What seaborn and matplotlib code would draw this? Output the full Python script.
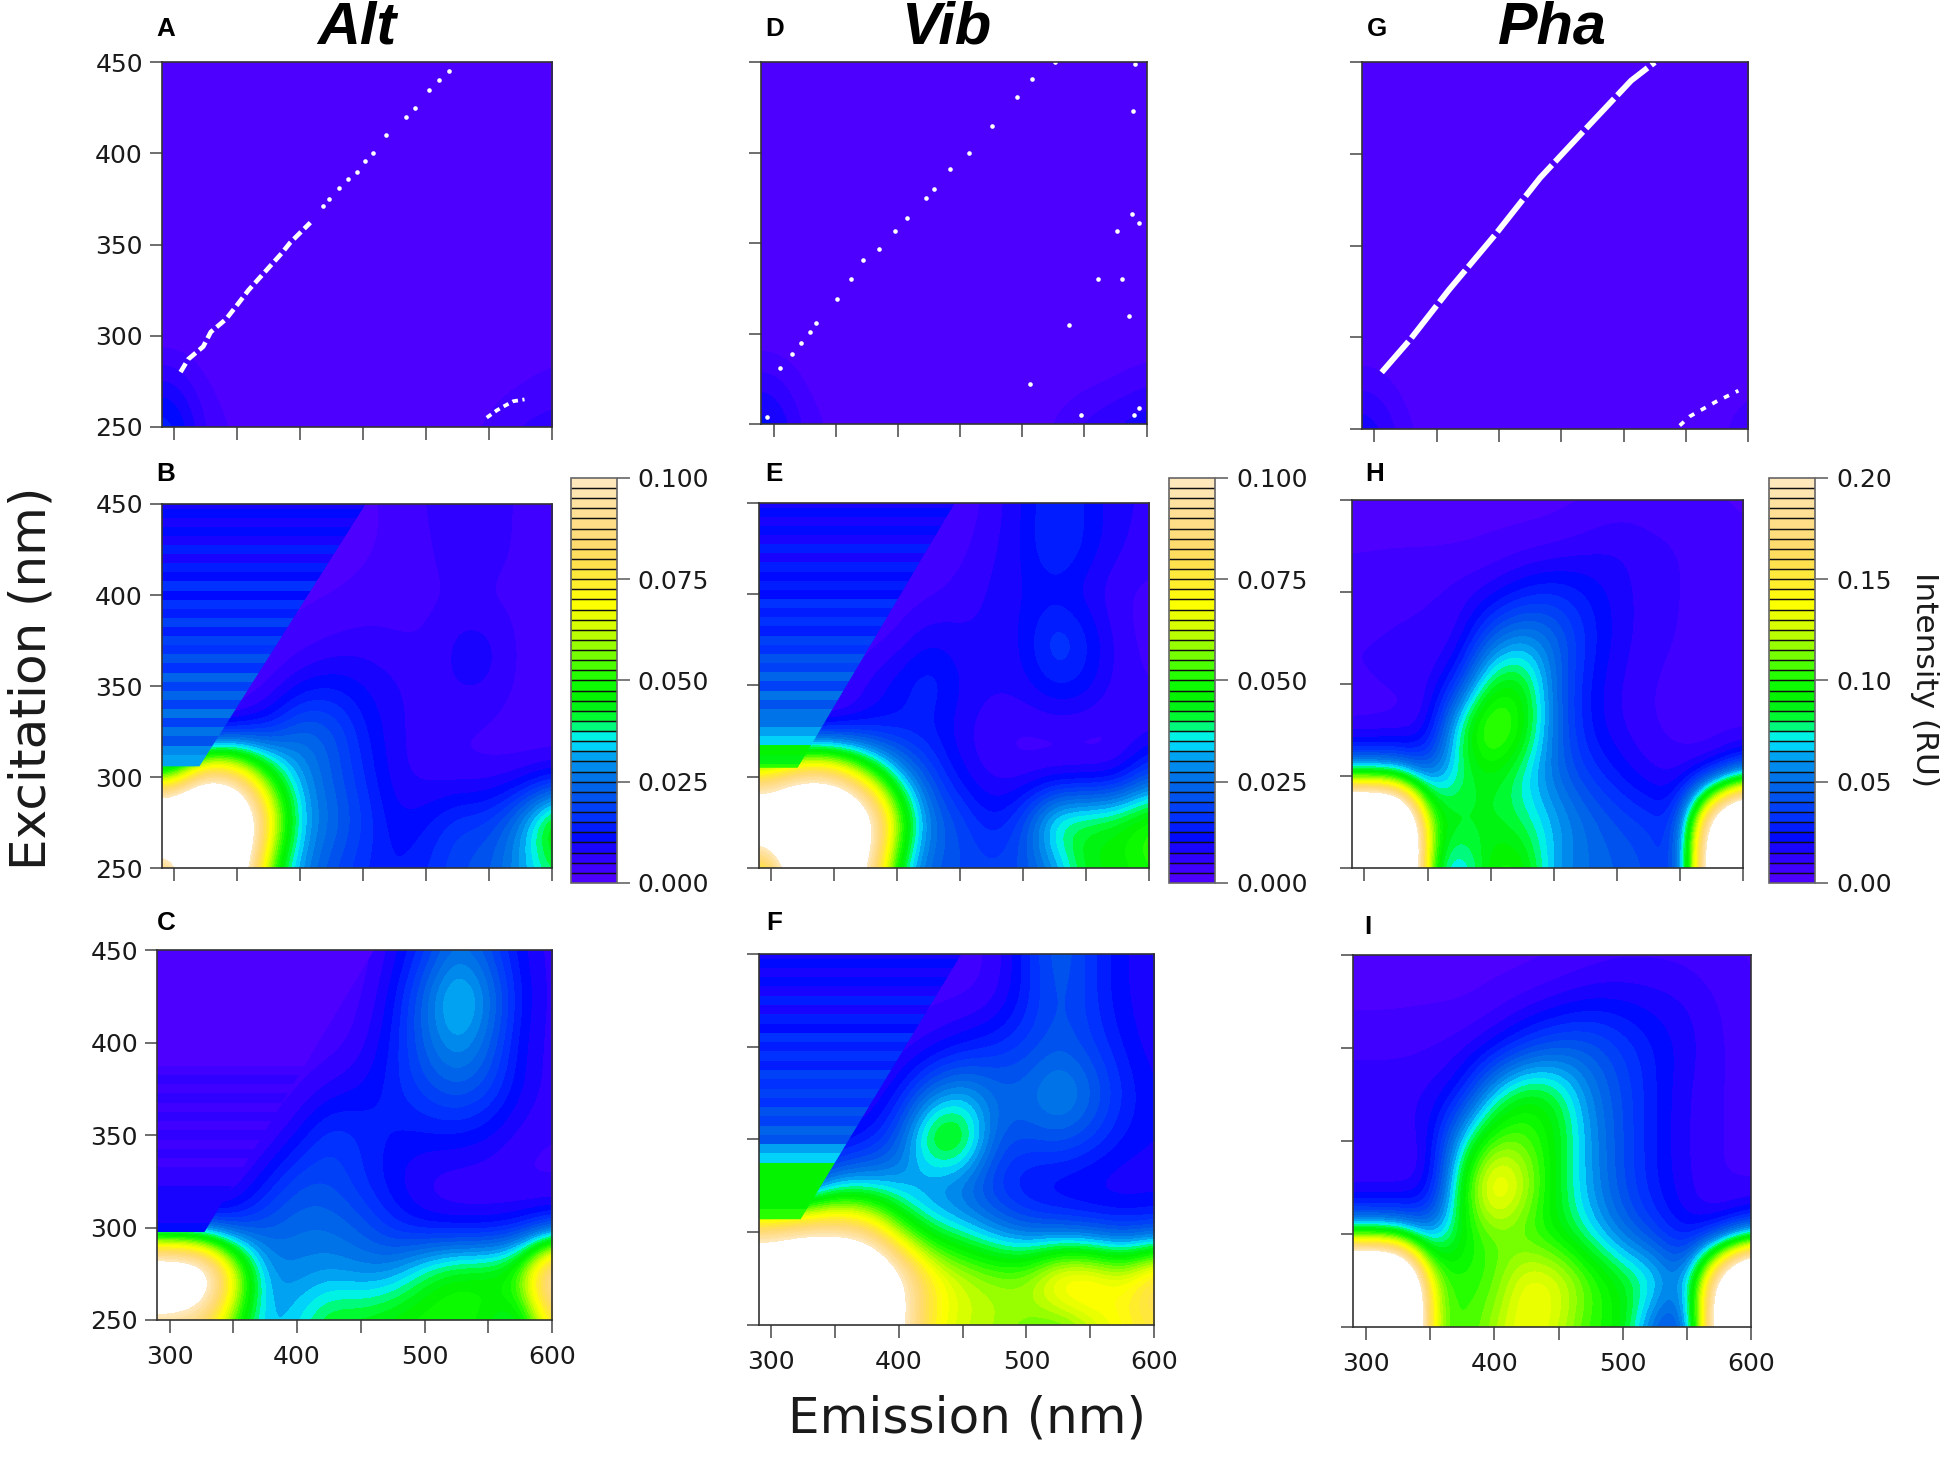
import numpy as np
import matplotlib
matplotlib.use('Agg')
import matplotlib.pyplot as plt
from matplotlib.colors import ListedColormap, BoundaryNorm, Normalize
from matplotlib.cm import ScalarMappable
from matplotlib.patches import Polygon
import seaborn as sns

# grid of the excitation-emission maps (rows go from 450 nm at the top down to 250 nm)
emission_nm = [300, 325, 350, 375, 400, 425, 450, 475, 500, 525, 550, 575, 600]
excitation_nm = [450, 425, 400, 375, 350, 325, 300, 275, 250]

# top row: almost empty maps, only the scatter line
alt_a = [
    [0] * 13, [0] * 13, [0] * 13, [0] * 13, [0] * 13, [0] * 13, [0] * 13,
    [0.008, 0.002, 0.001, 0, 0, 0, 0, 0, 0, 0, 0.001, 0.002, 0.004],
    [0.015, 0.004, 0.002, 0.002, 0.001, 0.001, 0.001, 0.001, 0.001, 0.002, 0.003, 0.006, 0.006],
]
vib_d = [
    [0] * 13, [0] * 13, [0] * 13, [0] * 13, [0] * 13, [0] * 13, [0] * 13,
    [0.006, 0.002, 0, 0, 0, 0, 0, 0, 0, 0, 0.001, 0.002, 0.004],
    [0.012, 0.004, 0.002, 0, 0, 0, 0, 0, 0, 0.003, 0.006, 0.008, 0.01],
]
pha_g = [
    [0] * 13, [0] * 13, [0] * 13, [0] * 13, [0] * 13, [0] * 13, [0] * 13,
    [0.008, 0.002, 0, 0, 0, 0, 0, 0, 0, 0, 0, 0.002, 0.004],
    [0.02, 0.006, 0.002, 0, 0, 0, 0, 0, 0, 0, 0.002, 0.004, 0.008],
]

alt_b = [
    [0.002, 0.002, 0.002, 0.002, 0.002, 0.002, 0.002, 0.003, 0.005, 0.008, 0.007, 0.004, 0.004],
    [0.002, 0.002, 0.002, 0.002, 0.002, 0.002, 0.002, 0.003, 0.004, 0.008, 0.007, 0.004, 0.003],
    [0.002, 0.002, 0.002, 0.002, 0.002, 0.002, 0.003, 0.004, 0.004, 0.005, 0.004, 0.004, 0.002],
    [0.002, 0.002, 0.002, 0.002, 0.003, 0.005, 0.006, 0.005, 0.005, 0.009, 0.009, 0.004, 0.003],
    [0.002, 0.002, 0.002, 0.004, 0.010, 0.012, 0.010, 0.008, 0.006, 0.008, 0.008, 0.004, 0.003],
    [0.002, 0.003, 0.008, 0.014, 0.025, 0.022, 0.013, 0.008, 0.006, 0.005, 0.004, 0.003, 0.003],
    [0.045, 0.095, 0.085, 0.050, 0.030, 0.022, 0.015, 0.008, 0.006, 0.005, 0.005, 0.006, 0.008],
    [0.160, 0.180, 0.150, 0.075, 0.033, 0.025, 0.018, 0.010, 0.012, 0.018, 0.018, 0.030, 0.055],
    [0.070, 0.170, 0.120, 0.050, 0.028, 0.020, 0.015, 0.012, 0.015, 0.020, 0.022, 0.030, 0.040],
]
alt_c = [
    [0.003, 0.003, 0.003, 0.003, 0.003, 0.003, 0.003, 0.008, 0.016, 0.026, 0.020, 0.010, 0.006],
    [0.003, 0.003, 0.003, 0.003, 0.003, 0.003, 0.004, 0.011, 0.025, 0.039, 0.028, 0.012, 0.006],
    [0.003, 0.003, 0.003, 0.003, 0.003, 0.003, 0.006, 0.013, 0.024, 0.032, 0.024, 0.010, 0.006],
    [0.003, 0.003, 0.003, 0.003, 0.004, 0.008, 0.010, 0.014, 0.019, 0.023, 0.019, 0.010, 0.006],
    [0.003, 0.003, 0.003, 0.004, 0.010, 0.018, 0.015, 0.012, 0.012, 0.012, 0.010, 0.006, 0.005],
    [0.003, 0.003, 0.004, 0.012, 0.020, 0.020, 0.015, 0.010, 0.006, 0.005, 0.005, 0.004, 0.004],
    [0.012, 0.012, 0.015, 0.022, 0.025, 0.025, 0.022, 0.015, 0.010, 0.008, 0.008, 0.010, 0.012],
    [0.150, 0.140, 0.075, 0.030, 0.028, 0.030, 0.028, 0.030, 0.042, 0.050, 0.050, 0.060, 0.120],
    [0.085, 0.080, 0.050, 0.030, 0.035, 0.045, 0.045, 0.048, 0.050, 0.050, 0.045, 0.035, 0.075],
]
vib_e = [
    [0.003, 0.003, 0.003, 0.003, 0.003, 0.003, 0.003, 0.006, 0.010, 0.016, 0.012, 0.008, 0.007],
    [0.003, 0.003, 0.003, 0.003, 0.003, 0.003, 0.004, 0.007, 0.010, 0.018, 0.012, 0.008, 0.006],
    [0.003, 0.003, 0.003, 0.003, 0.003, 0.004, 0.006, 0.008, 0.010, 0.010, 0.008, 0.005, 0.004],
    [0.003, 0.003, 0.003, 0.003, 0.005, 0.010, 0.008, 0.008, 0.010, 0.020, 0.014, 0.006, 0.004],
    [0.003, 0.003, 0.003, 0.008, 0.012, 0.016, 0.010, 0.008, 0.009, 0.014, 0.012, 0.006, 0.005],
    [0.003, 0.004, 0.006, 0.010, 0.012, 0.012, 0.008, 0.005, 0.004, 0.004, 0.004, 0.004, 0.006],
    [0.075, 0.095, 0.090, 0.060, 0.034, 0.020, 0.010, 0.006, 0.005, 0.005, 0.005, 0.006, 0.020],
    [0.140, 0.160, 0.160, 0.125, 0.060, 0.027, 0.020, 0.012, 0.020, 0.045, 0.045, 0.048, 0.055],
    [0.060, 0.140, 0.140, 0.100, 0.040, 0.022, 0.020, 0.018, 0.020, 0.028, 0.045, 0.045, 0.050],
]
vib_f = [
    [0.004, 0.004, 0.004, 0.004, 0.004, 0.004, 0.004, 0.005, 0.014, 0.024, 0.016, 0.010, 0.008],
    [0.004, 0.004, 0.004, 0.004, 0.004, 0.004, 0.004, 0.006, 0.014, 0.022, 0.016, 0.010, 0.008],
    [0.005, 0.005, 0.005, 0.005, 0.005, 0.008, 0.012, 0.015, 0.018, 0.022, 0.018, 0.012, 0.008],
    [0.006, 0.006, 0.006, 0.006, 0.012, 0.026, 0.032, 0.025, 0.025, 0.032, 0.025, 0.015, 0.010],
    [0.008, 0.008, 0.008, 0.012, 0.022, 0.051, 0.051, 0.022, 0.020, 0.022, 0.018, 0.012, 0.010],
    [0.010, 0.012, 0.030, 0.032, 0.030, 0.025, 0.022, 0.015, 0.010, 0.008, 0.007, 0.007, 0.008],
    [0.090, 0.095, 0.095, 0.085, 0.055, 0.040, 0.035, 0.028, 0.022, 0.020, 0.018, 0.015, 0.016],
    [0.140, 0.160, 0.160, 0.150, 0.110, 0.075, 0.065, 0.060, 0.062, 0.082, 0.082, 0.070, 0.090],
    [0.100, 0.150, 0.150, 0.140, 0.105, 0.070, 0.062, 0.060, 0.055, 0.050, 0.060, 0.070, 0.075],
]
pha_h = [
    [0.003, 0.003, 0.003, 0.003, 0.003, 0.003, 0.003, 0.004, 0.006, 0.006, 0.006, 0.005, 0.004],
    [0.004, 0.004, 0.004, 0.004, 0.005, 0.006, 0.008, 0.012, 0.015, 0.012, 0.010, 0.008, 0.006],
    [0.008, 0.010, 0.010, 0.012, 0.015, 0.025, 0.030, 0.025, 0.018, 0.012, 0.010, 0.008, 0.008],
    [0.010, 0.010, 0.010, 0.012, 0.045, 0.060, 0.050, 0.030, 0.018, 0.012, 0.010, 0.006, 0.006],
    [0.010, 0.012, 0.012, 0.030, 0.090, 0.095, 0.050, 0.025, 0.015, 0.010, 0.008, 0.006, 0.005],
    [0.005, 0.006, 0.010, 0.085, 0.125, 0.100, 0.050, 0.025, 0.015, 0.010, 0.008, 0.008, 0.006],
    [0.060, 0.060, 0.045, 0.075, 0.090, 0.070, 0.050, 0.035, 0.025, 0.015, 0.012, 0.012, 0.040],
    [0.420, 0.400, 0.110, 0.090, 0.085, 0.080, 0.065, 0.050, 0.040, 0.035, 0.030, 0.240, 0.380],
    [0.420, 0.400, 0.090, 0.055, 0.100, 0.100, 0.060, 0.050, 0.045, 0.040, 0.025, 0.260, 0.380],
]
pha_i = [
    [0.003, 0.003, 0.003, 0.003, 0.003, 0.003, 0.004, 0.006, 0.008, 0.008, 0.008, 0.006, 0.004],
    [0.004, 0.004, 0.004, 0.004, 0.006, 0.010, 0.015, 0.020, 0.020, 0.018, 0.015, 0.010, 0.006],
    [0.008, 0.008, 0.010, 0.012, 0.020, 0.035, 0.045, 0.045, 0.035, 0.025, 0.018, 0.010, 0.008],
    [0.015, 0.015, 0.015, 0.025, 0.070, 0.095, 0.085, 0.055, 0.040, 0.025, 0.015, 0.010, 0.008],
    [0.012, 0.012, 0.015, 0.070, 0.110, 0.110, 0.090, 0.060, 0.040, 0.025, 0.015, 0.010, 0.008],
    [0.008, 0.008, 0.012, 0.095, 0.160, 0.125, 0.085, 0.060, 0.040, 0.025, 0.015, 0.010, 0.008],
    [0.060, 0.060, 0.050, 0.090, 0.110, 0.100, 0.090, 0.070, 0.050, 0.035, 0.020, 0.015, 0.035],
    [0.420, 0.400, 0.120, 0.100, 0.105, 0.140, 0.135, 0.110, 0.090, 0.080, 0.050, 0.230, 0.380],
    [0.420, 0.420, 0.115, 0.100, 0.120, 0.140, 0.125, 0.100, 0.095, 0.040, 0.030, 0.240, 0.380],
]

# striped region left of the Rayleigh edge, 5 nm rows from 450 down to 300
stripe_ex = [450, 445, 440, 435, 430, 425, 420, 415, 410, 405, 400, 395, 390, 385, 380, 375,
             370, 365, 360, 355, 350, 345, 340, 335, 330, 325, 320, 315, 310, 305, 300]
alt_b_stripes = [0.009, 0.012, 0.009, 0.012, 0.010, 0.013, 0.010, 0.014, 0.011, 0.015, 0.012,
                 0.017, 0.013, 0.018, 0.014, 0.020, 0.015, 0.021, 0.017, 0.023, 0.018, 0.024,
                 0.019, 0.025, 0.020, 0.026, 0.022, 0.028, 0.030, 0.032, 0.034]
alt_c_stripes = [0.001, 0.001, 0.001, 0.001, 0.001, 0.001, 0.001, 0.001, 0.001, 0.001, 0.001,
                 0.001, 0.001, 0.004, 0.006, 0.004, 0.006, 0.004, 0.006, 0.004, 0.006, 0.004,
                 0.006, 0.005, 0.007, 0.006, 0.008, 0.008, 0.009, 0.010, 0.012]
vib_e_stripes = [0.009, 0.012, 0.009, 0.012, 0.010, 0.013, 0.010, 0.013, 0.011, 0.014, 0.012,
                 0.016, 0.013, 0.017, 0.014, 0.019, 0.016, 0.021, 0.018, 0.023, 0.020, 0.025,
                 0.022, 0.027, 0.025, 0.031, 0.034, 0.045, 0.044, 0.050, 0.060]
vib_f_stripes = [0.009, 0.012, 0.009, 0.012, 0.010, 0.013, 0.010, 0.014, 0.011, 0.015, 0.013,
                 0.017, 0.014, 0.018, 0.015, 0.019, 0.017, 0.021, 0.019, 0.023, 0.022, 0.030,
                 0.034, 0.045, 0.046, 0.045, 0.047, 0.046, 0.050, 0.050, 0.080]
# edge of the striped region: (excitation, emission) at its tip and at 450 nm
alt_b_edge = [(306, 320), (450, 452)]
alt_c_edge = [(296, 326), (450, 460)]
vib_e_edge = [(305, 321), (450, 446)]
vib_f_edge = [(307, 323), (450, 449)]

# white scatter line in the top row
alt_line_em = [305, 311, 323, 329, 341, 349, 359, 372, 385, 392, 408]
alt_line_ex = [280, 287, 294, 302, 309, 316, 325, 335, 345, 351, 362]
alt_dots_em = [418, 423, 431, 438, 445, 451, 458, 468, 484, 491, 502, 510, 518]
alt_dots_ex = [371, 375, 381, 386, 390, 396, 400, 410, 420, 425, 435, 440, 445]
alt_low_em = [548, 556, 561, 569, 578]
alt_low_ex = [255, 259, 261, 264, 265]
vib_dots_em = [295, 305, 315, 322, 329, 334, 351, 362, 372, 385, 398, 407, 423, 429, 442, 457,
               476, 496, 508, 526, 588, 594, 576, 561, 580, 586, 538, 506, 547, 590, 594, 589, 591]
vib_dots_ex = [254, 281, 289, 295, 301, 306, 319, 330, 341, 347, 357, 364, 375, 380, 391, 400,
               415, 431, 441, 450, 366, 361, 357, 330, 330, 310, 305, 272, 255, 255, 259, 423, 449]
pha_line_em = [306, 329, 360, 397, 433, 470, 506, 525]
pha_line_ex = [281, 299, 326, 356, 387, 414, 440, 450]
pha_low_em = [545, 553, 574, 592]
pha_low_ex = [252, 257, 265, 271]

column_titles = ['Alt', 'Vib', 'Pha']
panel_letters = ['A', 'B', 'C', 'D', 'E', 'F', 'G', 'H', 'I']
cbar_ticks_low = [0.0, 0.025, 0.05, 0.075, 0.1]
cbar_ticks_high = [0.0, 0.05, 0.1, 0.15, 0.2]

sns.set_theme(style='white')
plt.rcParams['font.family'] = ['DejaVu Sans']

# banded rainbow palette (purple -> blue -> cyan -> green -> yellow -> beige)
anchors = ['#4E00FF', '#3000FF', '#0008FF', '#0030FF', '#0050F0', '#0070E8', '#0098F0',
           '#00F0FF', '#00FF40', '#00F000', '#10FF00', '#60FF00', '#A8FF00', '#E0FF00',
           '#FFFF00', '#FFEC30', '#FFE050', '#FFDA70', '#FFDE88', '#FFE2A0', '#FFE8BC']
band_colors = sns.blend_palette(anchors, n_colors=40)
cmap = ListedColormap(band_colors)
cmap.set_over('white')
cmap.set_under(band_colors[0])

fig = plt.figure(figsize=(13, 9.72), dpi=150)

rects = [
    [0.0829, 0.7073, 0.2003, 0.2500], [0.0829, 0.4044, 0.2003, 0.2500], [0.0804, 0.0947, 0.2028, 0.2534],
    [0.3903, 0.7090, 0.1977, 0.2483], [0.3890, 0.4044, 0.2003, 0.2509], [0.3890, 0.0913, 0.2028, 0.2543],
    [0.6983, 0.7056, 0.1983, 0.2517], [0.6932, 0.4044, 0.2009, 0.2526], [0.6939, 0.0896, 0.2041, 0.2551],
]
grids = [alt_a, alt_b, alt_c, vib_d, vib_e, vib_f, pha_g, pha_h, pha_i]
vmaxes = [0.1, 0.1, 0.1, 0.1, 0.1, 0.1, 0.2, 0.2, 0.2]
stripes = {1: (alt_b_stripes, alt_b_edge), 2: (alt_c_stripes, alt_c_edge),
           4: (vib_e_stripes, vib_e_edge), 5: (vib_f_stripes, vib_f_edge)}

half_em = (emission_nm[1] - emission_nm[0]) / 2
half_ex = (excitation_nm[0] - excitation_nm[1]) / 2
grid_extent = (emission_nm[0] - half_em, emission_nm[-1] + half_em,
               excitation_nm[-1] - half_ex, excitation_nm[0] + half_ex)

axes = []
for k, (rect, grid, vmax) in enumerate(zip(rects, grids, vmaxes)):
    ax = fig.add_axes(rect)
    axes.append(ax)
    norm = Normalize(0, vmax)
    ax.imshow(np.array(grid), cmap=cmap, norm=norm, extent=grid_extent, origin='upper',
              aspect='auto', interpolation='bicubic', interpolation_stage='data')

    if k in stripes:
        vals, edge = stripes[k]
        (ex_lo, em_lo), (ex_hi, em_hi) = edge
        im = ax.imshow(np.array(vals)[:, None], cmap=cmap, norm=norm, origin='upper', aspect='auto',
                       extent=(290, 600, stripe_ex[-1] - 2.5, stripe_ex[0] + 2.5),
                       interpolation='nearest')
        clip = Polygon([(289, ex_lo), (em_lo, ex_lo), (em_hi, ex_hi), (289, ex_hi)],
                       closed=True, transform=ax.transData)
        im.set_clip_path(clip)

    col, row = divmod(k, 3)
    ax.set_xlim(290, 600)
    ax.set_ylim(250, 450)
    ax.set_xticks([300, 350, 400, 450, 500, 550, 600])
    ax.set_yticks([250, 300, 350, 400, 450])
    ax.set_xticklabels(['300', '', '400', '', '500', '', '600'] if row == 2 else [])
    ax.set_yticklabels(['250', '300', '350', '400', '450'] if col == 0 else [])
    ax.tick_params(bottom=True, left=True, direction='out', length=6, width=0.8, color='#555555',
                   labelsize=12, labelcolor='#1a1a1a', pad=3)
    ax.tick_params(axis='x', pad=6)
    for sp in ax.spines.values():
        sp.set_color('#333333')
        sp.set_linewidth(0.8)
    ax.grid(False)

# scatter lines of the top row
ax = axes[0]
ax.plot(alt_line_em, alt_line_ex, color='white', lw=2.2, dashes=(2.2, 1.0), solid_capstyle='round')
ax.plot(alt_dots_em, alt_dots_ex, 'o', color='white', ms=2.2, mew=0)
ax.plot(alt_low_em, alt_low_ex, color='white', lw=1.8, dashes=(1.5, 1.2))
ax = axes[3]
ax.plot(vib_dots_em, vib_dots_ex, 'o', color='white', ms=2.2, mew=0)
ax = axes[6]
ax.plot(pha_line_em, pha_line_ex, color='white', lw=2.8, dashes=(7, 0.8))
ax.plot(pha_low_em, pha_low_ex, color='white', lw=1.8, dashes=(1.5, 2.0))

# colour bars of the middle row
for left, vmax, ticks, fmt in [(0.2927, 0.1, cbar_ticks_low, '{:.3f}'),
                               (0.5995, 0.1, cbar_ticks_low, '{:.3f}'),
                               (0.9072, 0.2, cbar_ticks_high, '{:.2f}')]:
    cax = fig.add_axes([left, 0.3944, 0.0236, 0.2778])
    levels = np.linspace(0, vmax, 41)
    cb = fig.colorbar(ScalarMappable(norm=BoundaryNorm(levels, 40), cmap=cmap), cax=cax,
                      ticks=ticks)
    cb.minorticks_off()
    cax.hlines(levels[1:-1], 0, 1, transform=cax.get_yaxis_transform(), colors='#111111',
               linewidth=0.7)
    cb.outline.set_edgecolor('#666666')
    cb.outline.set_linewidth(0.8)
    cb.set_ticks(ticks, labels=[fmt.format(t) for t in ticks])
    cax.set_ylim(0, vmax)
    cax.tick_params(which='minor', right=False, left=False, length=0)
    cax.tick_params(which='major', right=True, length=6, width=0.8, color='#666666', labelsize=12,
                    labelcolor='#1a1a1a', pad=4)

fig.text(0.987, 0.534, 'Intensity (RU)', rotation=270, ha='center', va='center', fontsize=15,
         color='#1a1a1a')
fig.text(0.016, 0.535, 'Excitation (nm)', rotation=90, ha='center', va='center', fontsize=24,
         color='#1a1a1a')
fig.text(0.496, 0.027, 'Emission (nm)', ha='center', va='center', fontsize=24, color='#1a1a1a')

for x, title in zip([0.183, 0.485, 0.796], column_titles):
    fig.text(x, 0.981, title, ha='center', va='center', fontsize=28.5, fontweight='bold',
             style='italic', color='black', family=['Liberation Sans', 'DejaVu Sans'])

letter_pos = [(0.085, 0.980), (0.085, 0.675), (0.085, 0.367),
              (0.397, 0.980), (0.397, 0.675), (0.397, 0.367),
              (0.706, 0.980), (0.705, 0.675), (0.7015, 0.364)]
for (x, y), letter in zip(letter_pos, panel_letters):
    fig.text(x, y, letter, ha='center', va='center', fontsize=12.5, fontweight='bold',
             color='black', family=['Liberation Sans', 'DejaVu Sans'])

fig.savefig('out.png', dpi=150)
